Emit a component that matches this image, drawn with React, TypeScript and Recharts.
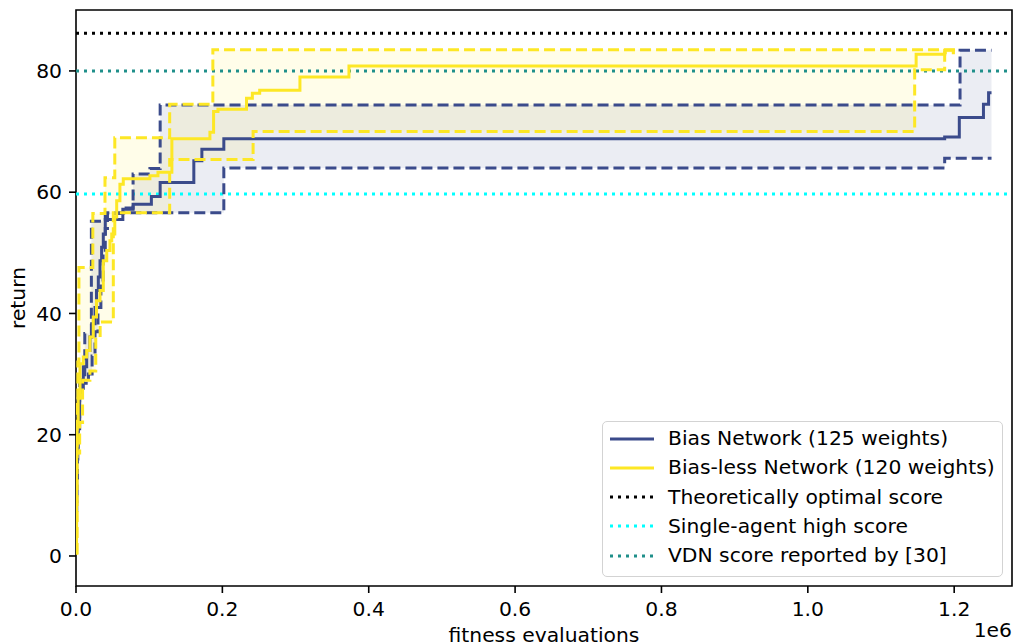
import { ComposedChart, Line, Area, XAxis, YAxis, ReferenceLine, ReferenceArea, Legend } from 'recharts'

type Step = [number, number][]

// best-so-far return per fitness evaluations, stored as step breakpoints [x, y]
const biasMedian: Step = [
  [0, 9], [1000, 16], [2500, 22], [5000, 27], [7800, 29], [10000, 31.2], [14600, 33.9], [19000, 36.1],
  [21400, 38.3], [26000, 41], [28000, 43.8], [30500, 46], [32800, 48.7], [35000, 50.9], [37300, 53.1],
  [40000, 55.5], [64000, 57.2], [78000, 58.0], [103000, 59.3], [115000, 61.6], [161000, 65.2],
  [172000, 67.1], [202000, 68.8], [1187000, 69.1], [1207000, 72.3], [1240000, 74.5], [1247000, 76.4],
  [1251000, 76.4],
]
const biasLow: Step = [
  [0, 7.5], [1000, 12], [2000, 17], [3000, 21], [5000, 27], [10000, 28.5], [17000, 30], [22000, 33],
  [26000, 37], [30000, 41], [34000, 45], [37000, 50], [40000, 54], [43000, 56.6], [202000, 64.0],
  [1187000, 65.6], [1251000, 65.6],
]
const biasHigh: Step = [
  [0, 10], [1000, 20], [2500, 27], [5000, 29], [12000, 36.7], [21000, 55.2], [40000, 56.5],
  [64000, 57.4], [78000, 63.0], [101000, 63.9], [115000, 74.4], [1208000, 83.4], [1251000, 83.4],
]

const biaslessMedian: Step = [
  [0, 0.5], [800, 17], [1500, 22], [3000, 26], [5500, 31.7], [10000, 32.8], [14600, 33.9],
  [19000, 36.1], [23600, 39.4], [28000, 42.1], [32800, 43.8], [37300, 48.7], [42000, 50.4],
  [46400, 52], [48800, 53.1], [53000, 55.9], [55600, 58.6], [60000, 61.3], [64600, 62.2],
  [101000, 62.7], [112000, 63.3], [131000, 68.8], [183000, 69.9], [188000, 73.3], [194000, 73.7],
  [233000, 75.5], [241000, 76.3], [251000, 76.8], [306000, 79.0], [373000, 80.8], [1148000, 82.75],
  [1187000, 83.4], [1201000, 83.4],
]
const biaslessLow: Step = [
  [0, 0.5], [1500, 17], [5000, 22], [9000, 29], [19000, 30.5], [27000, 36], [33000, 38.6],
  [51000, 56.6], [128000, 65.4], [242000, 70.0], [1146000, 80.2], [1187000, 83.0], [1201000, 83.0],
]
const biaslessHigh: Step = [
  [0, 5], [800, 17], [1500, 25], [2500, 32], [4000, 47.6], [23000, 56.5], [39600, 62.4],
  [53000, 69.0], [128000, 74.5], [187000, 83.5], [1201000, 83.5],
]

const OPTIMAL_SCORE = 86.2
const SINGLE_AGENT_SCORE = 59.7
const VDN_SCORE = 80

const xTicks = [0, 200000, 400000, 600000, 800000, 1000000, 1200000]
const yTicks = [0, 20, 40, 60, 80]

const X_MAX = 1279000
const Y_MIN = -4.95
const Y_MAX = 90.05

const BLUE = '#3b4b8b'
const YELLOW = '#fde725'
const CYAN = '#00ffff'
const TEAL = '#1f8f8a'
const FONT = 'DejaVu Sans'
const FS = 20.3

function valueAt(steps: Step, x: number): number | null {
  if (x > steps[steps.length - 1][0]) return null
  let v = steps[0][1]
  for (const [bx, by] of steps) {
    if (bx <= x) v = by
    else break
  }
  return v
}

const curves = [biasMedian, biasLow, biasHigh, biaslessMedian, biaslessLow, biaslessHigh]
const allX = Array.from(new Set(curves.flatMap((c) => c.map((p) => p[0])))).sort((a, b) => a - b)

const rows = allX.map((x) => {
  const bLo = valueAt(biasLow, x)
  const bHi = valueAt(biasHigh, x)
  const yLo = valueAt(biaslessLow, x)
  const yHi = valueAt(biaslessHigh, x)
  return {
    x,
    biasMed: valueAt(biasMedian, x),
    biasLo: bLo,
    biasHi: bHi,
    biasBand: bLo != null && bHi != null ? [bLo, bHi] : null,
    freeMed: valueAt(biaslessMedian, x),
    freeLo: yLo,
    freeHi: yHi,
    freeBand: yLo != null && yHi != null ? [yLo, yHi] : null,
  }
})

const legendItems = [
  { label: 'Bias Network (125 weights)', color: BLUE, dash: undefined },
  { label: 'Bias-less Network (120 weights)', color: YELLOW, dash: undefined },
  { label: 'Theoretically optimal score', color: '#000', dash: '3 5' },
  { label: 'Single-agent high score', color: CYAN, dash: '3 5' },
  { label: 'VDN score reported by [30]', color: TEAL, dash: '3 5' },
]

const LegendBox = () => (
  <div
    style={{
      position: 'relative',
      width: 401,
      height: 156,
      boxSizing: 'border-box',
      border: '1.5px solid #d3d3d3',
      borderRadius: 5,
      background: 'rgba(255,255,255,0.85)',
      fontFamily: FONT,
      fontSize: FS,
      color: '#000',
    }}
  >
    {legendItems.map((it, i) => {
      const cy = 16.7 + i * 29.2
      return (
        <div key={it.label}>
          <svg style={{ position: 'absolute', left: 6, top: cy - 4 }} width={46} height={8}>
            <line x1={1} y1={4} x2={45} y2={4} stroke={it.color} strokeWidth={3} strokeDasharray={it.dash} />
          </svg>
          <div style={{ position: 'absolute', left: 65, top: cy - 12.5, height: 25, lineHeight: '25px', whiteSpace: 'nowrap' }}>
            {it.label}
          </div>
        </div>
      )
    })}
  </div>
)

const tickStyle = { fill: '#000', fontSize: FS, fontFamily: FONT }

export default function App() {
  return (
    <div style={{ position: 'absolute', left: 0, top: 0, width: 1014, height: 644, background: '#fff' }}>
      <ComposedChart width={1014} height={644} data={rows} margin={{ top: 10, right: 2, left: 0, bottom: 0 }}>
        <XAxis
          dataKey="x"
          type="number"
          domain={[0, X_MAX]}
          allowDataOverflow
          ticks={xTicks}
          tickFormatter={(v: number) => (v / 1e6).toFixed(1)}
          height={58}
          axisLine={false}
          tickLine={{ stroke: '#000', strokeWidth: 1.6 }}
          tickSize={7}
          tickMargin={9}
          tick={tickStyle}
          label={() => (
            <g style={{ fontFamily: FONT, fontSize: FS }} fill="#000">
              <text x={544} y={642} textAnchor="middle">fitness evaluations</text>
              <text x={1012} y={637} textAnchor="end">1e6</text>
            </g>
          )}
        />
        <YAxis
          type="number"
          domain={[Y_MIN, Y_MAX]}
          allowDataOverflow
          ticks={yTicks}
          width={76}
          axisLine={false}
          tickLine={{ stroke: '#000', strokeWidth: 1.6 }}
          tickSize={7}
          tickMargin={7}
          tick={tickStyle}
          label={() => (
            <text
              x={18}
              y={298}
              transform="rotate(-90 18 298)"
              textAnchor="middle"
              dominantBaseline="central"
              style={{ fontFamily: FONT, fontSize: FS }}
              fill="#000"
            >
              return
            </text>
          )}
        />

        <Area dataKey="biasBand" type="stepAfter" stroke="none" fill={BLUE} fillOpacity={0.1} isAnimationActive={false} activeDot={false} />
        <Area dataKey="freeBand" type="stepAfter" stroke="none" fill={YELLOW} fillOpacity={0.1} isAnimationActive={false} activeDot={false} />

        <ReferenceLine y={OPTIMAL_SCORE} stroke="#000" strokeWidth={3} strokeDasharray="3 5" />
        <ReferenceLine y={SINGLE_AGENT_SCORE} stroke={CYAN} strokeWidth={3} strokeDasharray="3 5" />
        <ReferenceLine y={VDN_SCORE} stroke={TEAL} strokeWidth={3} strokeDasharray="3 5" />

        <Line dataKey="biasLo" type="stepAfter" stroke={BLUE} strokeWidth={3} strokeDasharray="11 5" dot={false} activeDot={false} isAnimationActive={false} />
        <Line dataKey="biasHi" type="stepAfter" stroke={BLUE} strokeWidth={3} strokeDasharray="11 5" dot={false} activeDot={false} isAnimationActive={false} />
        <Line dataKey="biasMed" type="stepAfter" stroke={BLUE} strokeWidth={3} dot={false} activeDot={false} isAnimationActive={false} />
        <Line dataKey="freeLo" type="stepAfter" stroke={YELLOW} strokeWidth={3} strokeDasharray="11 5" dot={false} activeDot={false} isAnimationActive={false} />
        <Line dataKey="freeHi" type="stepAfter" stroke={YELLOW} strokeWidth={3} strokeDasharray="11 5" dot={false} activeDot={false} isAnimationActive={false} />
        <Line dataKey="freeMed" type="stepAfter" stroke={YELLOW} strokeWidth={3} dot={false} activeDot={false} isAnimationActive={false} />

        <ReferenceArea x1={0} x2={X_MAX} y1={Y_MIN} y2={Y_MAX} fill="none" stroke="#000" strokeWidth={1.6} />

        <Legend
          layout="horizontal"
          verticalAlign="middle"
          align="center"
          content={() => <LegendBox />}
          wrapperStyle={{ left: 602, top: 421, width: 401, height: 156 }}
        />
      </ComposedChart>
    </div>
  )
}
